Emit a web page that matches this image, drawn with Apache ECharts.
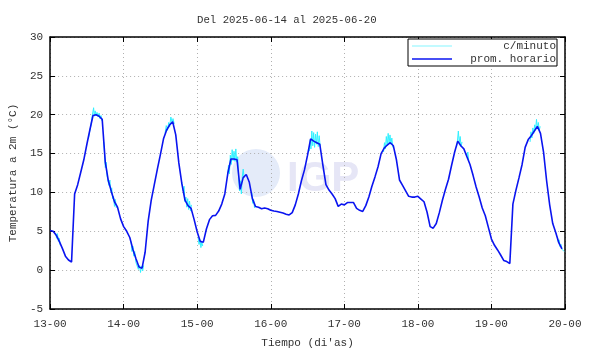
<!DOCTYPE html>
<html>
<head>
<meta charset="utf-8">
<script src="https://cdn.jsdelivr.net/npm/echarts@6/dist/echarts.min.js"></script>
<style>
  html, body { margin: 0; padding: 0; background: #fff; }
  #chart { width: 590px; height: 354px; }
</style>
</head>
<body>
<div id="chart"></div>
<script>
// etiquetas del eje x (cada 24 h)
const tickLabels = ['13-00', '14-00', '15-00', '16-00', '17-00', '18-00', '19-00', '20-00'];

// promedio horario, un arreglo por dia (00h..23h)
const d13 = [5.1, 5.0, 4.5, 3.7, 2.8, 1.8, 1.3, 1.05, 9.8, 11.0, 12.6, 14.2, 16.2, 18.1, 19.9, 20.0, 19.8, 19.4, 13.9, 11.5, 10.1, 8.8, 8.1, 6.6];
const d14 = [5.6, 5.0, 4.2, 2.7, 1.5, 0.4, 0.25, 2.3, 6.3, 9.0, 11.0, 13.0, 14.9, 16.9, 18.0, 18.7, 19.1, 17.4, 13.8, 11.1, 9.0, 8.3, 7.95, 6.5];
const d15 = [4.9, 3.7, 3.6, 5.3, 6.5, 7.0, 7.05, 7.6, 8.5, 9.8, 12.5, 14.3, 14.3, 14.2, 10.4, 11.9, 12.3, 11.3, 9.2, 8.2, 8.1, 7.9, 8.0, 7.9];
const d16 = [7.7, 7.6, 7.55, 7.45, 7.35, 7.2, 7.1, 7.4, 8.4, 9.8, 11.5, 12.9, 14.8, 16.9, 16.6, 16.4, 16.2, 13.5, 11.0, 10.3, 9.8, 9.2, 8.2, 8.5];
const d17 = [8.4, 8.7, 8.7, 8.7, 7.95, 7.7, 7.55, 8.3, 9.4, 10.8, 12.0, 13.3, 15.0, 15.7, 16.1, 16.4, 16.0, 14.2, 11.6, 10.9, 10.2, 9.5, 9.4, 9.4];
const d18 = [9.5, 9.15, 8.8, 7.45, 5.6, 5.4, 6.0, 7.4, 9.0, 10.4, 11.7, 13.5, 15.2, 16.6, 16.0, 15.6, 14.6, 13.6, 12.2, 10.7, 9.4, 8.0, 7.0, 5.5];
const d19 = [4.0, 3.2, 2.6, 1.95, 1.25, 1.1, 0.85, 8.5, 10.3, 11.9, 13.6, 15.8, 16.8, 17.3, 17.9, 18.5, 17.6, 15.2, 11.5, 8.4, 6.0, 4.8, 3.5, 2.75];

// tramos visibles de la serie por minuto: [horas desde 13-00, valor]
const minuteWindows = [
  [[1.8, 4.8], [2.1, 4.1], [2.4, 4.7], [2.7, 3.7], [3.0, 4.1], [3.3, 3.2]],
  [[12.5, 16.9], [12.9, 17.8], [13.3, 18.6], [13.6, 19.5], [13.9, 19.3], [14.2, 20.9], [14.4, 19.8], [14.7, 20.5], [15.0, 19.9], [15.3, 20.3], [15.7, 19.7], [16.0, 20.2], [16.3, 19.5], [16.6, 19.9], [16.9, 19.2]],
  [[17.5, 16.5], [17.8, 14.8], [18.0, 13.2], [18.3, 13.9], [18.6, 12.1], [18.9, 12.3], [19.2, 10.9], [19.5, 11.6], [19.8, 10.1], [20.1, 10.6], [20.4, 9.2], [20.7, 9.5], [21.0, 8.2], [21.3, 9.1], [21.6, 8.0]],
  [[26.4, 3.7], [26.7, 2.4], [27.0, 3.1], [27.3, 1.8], [27.6, 2.4], [28.0, 1.0], [28.4, 0.9], [28.8, 0.1], [29.2, 0.6], [29.5, -0.3], [29.8, 0.5], [30.2, -0.1], [30.5, 0.6]],
  [[37.5, 17.6], [37.9, 18.6], [38.3, 18.0], [38.7, 19.0], [39.0, 18.4], [39.4, 19.7], [39.8, 19.0], [40.1, 19.5], [40.5, 18.8]],
  [[43.0, 11.3], [43.4, 10.2], [43.7, 10.8], [44.0, 8.8], [44.3, 9.4], [44.6, 8.1], [44.9, 9.2], [45.2, 7.8], [45.5, 8.9], [45.8, 7.6], [46.1, 8.4]],
  [[48.3, 4.2], [48.6, 3.3], [48.9, 3.9], [49.2, 2.9], [49.5, 3.6], [49.8, 3.1]],
  [[57.9, 12.0], [58.2, 13.5], [58.5, 12.4], [58.8, 14.8], [59.1, 13.6], [59.4, 15.5], [59.7, 14.1], [60.0, 15.3], [60.3, 14.0], [60.6, 15.6], [60.9, 13.9], [61.2, 14.6], [61.5, 12.0], [61.8, 10.2], [62.1, 11.5], [62.4, 9.8], [62.7, 12.0], [63.0, 13.0], [63.3, 11.9]],
  [[65.8, 10.0], [66.1, 8.6], [66.4, 9.1], [66.7, 8.0]],
  [[84.6, 15.3], [84.9, 16.8], [85.1, 15.6], [85.4, 17.9], [85.7, 16.0], [86.0, 17.7], [86.3, 15.8], [86.6, 17.5], [86.9, 16.2], [87.2, 17.8], [87.5, 15.9], [87.8, 17.3], [88.1, 16.0]],
  [[108.8, 15.2], [109.1, 16.4], [109.4, 15.6], [109.7, 17.2], [110.0, 16.0], [110.3, 17.6], [110.6, 16.3], [110.9, 17.4], [111.2, 16.2], [111.5, 17.0], [111.8, 15.8]],
  [[132.6, 15.8], [132.9, 16.6], [133.2, 17.9], [133.5, 16.4], [133.8, 17.2], [134.1, 15.9], [134.4, 16.5]],
  [[136.0, 14.6], [136.3, 15.2], [136.6, 14.0]],
  [[156.6, 16.5], [156.9, 17.8], [157.2, 17.0], [157.5, 18.3], [157.8, 17.6], [158.1, 18.7], [158.4, 18.0], [158.7, 19.4], [159.0, 18.2], [159.3, 19.0], [159.6, 18.0], [159.9, 18.5]],
  [[165.5, 4.3], [165.8, 3.6], [166.1, 3.9], [166.4, 3.0], [166.7, 3.3], [167.0, 2.7], [167.4, 2.9], [167.7, 2.4]]
];

const hourly = [].concat(d13, d14, d15, d16, d17, d18, d19).map((v, i) => [i, v]);

// unir tramos con un hueco entre ellos
const minuteData = [];
minuteWindows.forEach(w => {
  w.forEach(p => minuteData.push(p));
  minuteData.push([w[w.length - 1][0], null]);
});

const font = 'Liberation Mono';
const txt = '#333';

const chart = echarts.init(document.getElementById('chart'));

const xBase = {
  type: 'value', min: 0, max: 168, interval: 24,
  axisLine: { onZero: false, lineStyle: { color: '#000', width: 1.5 } },
  axisTick: { inside: true, length: 5, lineStyle: { color: '#000' } },
  splitLine: { show: false }
};
const yBase = {
  type: 'value', min: -5, max: 30, interval: 5,
  axisLine: { show: true, onZero: false, lineStyle: { color: '#000', width: 1.5 } },
  axisTick: { show: true, inside: true, length: 5, lineStyle: { color: '#000' } },
  splitLine: { show: false }
};

const option = {
  animation: false,
  title: {
    text: 'Del 2025-06-14 al 2025-06-20',
    left: 192, top: 10,
    textStyle: { fontFamily: font, fontSize: 10.7, fontWeight: 'normal', color: txt }
  },
  legend: {
    orient: 'vertical',
    right: 33, top: 39,
    backgroundColor: '#fff',
    borderColor: '#000', borderWidth: 1, borderRadius: 0,
    padding: [1, 1, 1, 4],
    icon: 'rect',
    itemGap: 1, itemWidth: 40, itemHeight: 1.5,
    data: ['c/minuto', 'prom. horario'],
    formatter: '{a|{name}}',
    textStyle: {
      fontFamily: font, fontSize: 11, color: txt, lineHeight: 12,
      rich: { a: { fontFamily: font, fontSize: 11, color: txt, width: 99, align: 'right', lineHeight: 12 } }
    }
  },
  grid: { left: 46, right: 25, top: 37, bottom: 41 },
  xAxis: [
    Object.assign({}, xBase, {
      position: 'bottom',
      name: "Tiempo (di'as)", nameLocation: 'middle', nameGap: 29,
      nameTextStyle: { fontFamily: font, fontSize: 11, color: txt },
      axisLabel: { fontFamily: font, fontSize: 11, color: txt, margin: 10,
        formatter: v => tickLabels[v / 24] },
      splitLine: { show: true, lineStyle: { color: '#b0b0b0', type: [1, 3] } }
    }),
    Object.assign({}, xBase, { position: 'top', axisLabel: { show: false } })
  ],
  yAxis: [
    Object.assign({}, yBase, {
      position: 'left',
      name: 'Temperatura a 2m (°C)', nameLocation: 'middle', nameGap: 31,
      nameTextStyle: { fontFamily: font, fontSize: 11, color: txt },
      axisLabel: { fontFamily: font, fontSize: 11, color: txt, margin: 7 },
      splitLine: { show: true, lineStyle: { color: '#b0b0b0', type: [1, 3] } }
    }),
    Object.assign({}, yBase, { position: 'right', axisLabel: { show: false } })
  ],
  graphic: [
    { type: 'circle', z: 0, shape: { cx: 256, cy: 173, r: 24 }, style: { fill: '#e4ebf9' } },
    { type: 'text', z: 0, left: 287, top: 158,
      style: { text: 'IGP', font: 'bold 42px "Liberation Sans"', fill: '#e6e6f6' } }
  ],
  series: [
    {
      name: 'c/minuto', type: 'line', data: minuteData,
      symbol: 'none', connectNulls: false,
      lineStyle: { color: '#2ff0ff', width: 1 }, itemStyle: { color: '#aef8ff' }
    },
    {
      name: 'prom. horario', type: 'line', data: hourly,
      symbol: 'none',
      lineStyle: { color: '#0a14f0', width: 1.6 }, itemStyle: { color: '#0a14f0' }
    }
  ]
};

chart.setOption(option);
</script>
</body>
</html>
